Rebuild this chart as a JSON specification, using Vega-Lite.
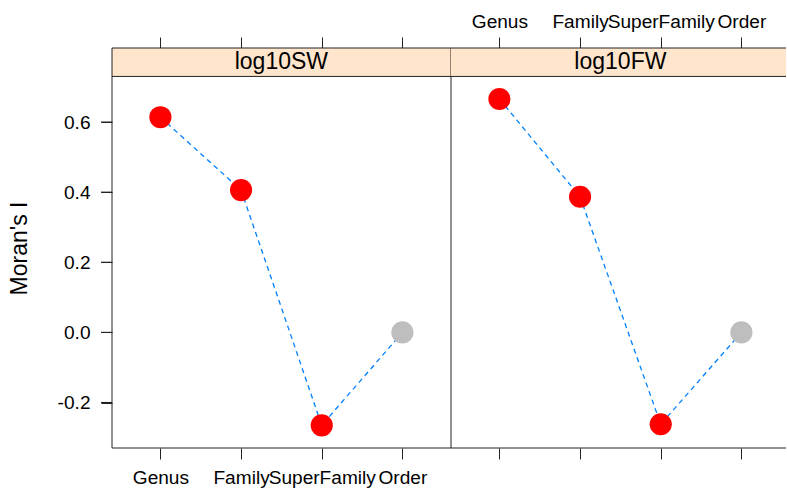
{
  "$schema": "https://vega.github.io/schema/vega-lite/v6.json",
  "autosize": {"type": "pad"},
  "padding": {"left": 8, "top": 12, "right": 0, "bottom": 1},
  "background": "white",
  "config": {
    "view": {"stroke": null},
    "font": "Liberation Sans",
    "axis": {
      "domain": true, "ticks": true,
      "domainColor": "#222", "tickColor": "#222", "labelColor": "#000", "titleColor": "#000",
      "labelFont": "Liberation Sans", "titleFont": "Liberation Sans",
      "labelFontSize": 19.1, "tickSize": 11, "grid": false, "zindex": 1,
      "domainWidth": 1, "tickWidth": 1, "titleFontWeight": "normal", "labelOverlap": false
    }
  },
  "datasets": {
    "moran": [
      {"trait": "log10SW", "level": "Genus", "moran": 0.614, "status": "significant"},
      {"trait": "log10SW", "level": "Family", "moran": 0.406, "status": "significant"},
      {"trait": "log10SW", "level": "SuperFamily", "moran": -0.265, "status": "significant"},
      {"trait": "log10SW", "level": "Order", "moran": 0.0, "status": "not significant"},
      {"trait": "log10FW", "level": "Genus", "moran": 0.666, "status": "significant"},
      {"trait": "log10FW", "level": "Family", "moran": 0.387, "status": "significant"},
      {"trait": "log10FW", "level": "SuperFamily", "moran": -0.262, "status": "significant"},
      {"trait": "log10FW", "level": "Order", "moran": 0.0, "status": "not significant"}
    ],
    "yticks": [
      {"tick": -0.2}, {"tick": 0.0}, {"tick": 0.2}, {"tick": 0.4}, {"tick": 0.6}
    ]
  },
  "spacing": 0,
  "bounds": "flush",
  "resolve": {"scale": {"x": "independent", "y": "independent"}, "axis": {"x": "independent", "y": "independent"}},
  "hconcat": [
    {
      "width": 339, "height": 400,
      "data": {"name": "moran"},
      "transform": [{"filter": "datum.trait === 'log10SW'"}],
      "resolve": {"axis": {"x": "independent"}},
      "layer": [
        {
          "data": {"values": [{"trait": "log10SW"}]},
          "mark": {"type": "rect", "fill": "#FFE5CC", "x": 0, "x2": "width"},
          "encoding": {
            "y": {"datum": 0.7303, "type": "quantitative"},
            "y2": {"datum": 0.8114}
          }
        },
        {
          "data": {"values": [{"trait": "log10SW"}]},
          "mark": {"type": "rule", "color": "#222", "strokeWidth": 1},
          "encoding": {
            "y": {"datum": 0.7303, "type": "quantitative"}
          }
        },
        {
          "data": {"values": [{"trait": "log10SW"}]},
          "mark": {"type": "text", "dx": 40.3, "fontSize": 23, "baseline": "middle", "align": "center", "color": "#000", "font": "Liberation Sans"},
          "encoding": {
            "x": {"datum": "Family", "type": "ordinal", "axis": null},
            "y": {"datum": 0.77085, "type": "quantitative"},
            "text": {"field": "trait", "type": "nominal"}
          }
        },
        {
          "mark": {"type": "line", "color": "#0080FF", "strokeDash": [5, 4], "strokeWidth": 1.3},
          "encoding": {
            "x": {"field": "level", "type": "ordinal", "scale": {"type": "point", "domain": ["Genus", "Family", "SuperFamily", "Order"], "range": [48.4, 290.4], "padding": 0},
                  "axis": {"orient": "bottom", "title": null, "labelAngle": 0, "labelPadding": 9, "labels": true, "ticks": true, "tickSize": 11, "domain": false}},
            "y": {"field": "moran", "type": "quantitative", "scale": {"domain": [-0.3297, 0.8114], "nice": false, "zero": false},
                  "axis": {"orient": "left", "values": [-0.2, 0, 0.2, 0.4, 0.6], "labelExpr": "replace(format(datum.value, '.1f'), '\u2212', '-')", "labelPadding": 11, "ticks": true, "tickSize": 11, "domain": false, "title": "Moran's I", "titleFontSize": 23, "titlePadding": 26}},
            "order": {"value": null}
          }
        },
        {
          "mark": {"type": "circle", "size": 490, "opacity": 1},
          "encoding": {
            "x": {"field": "level", "type": "ordinal",
                  "axis": {"orient": "top", "title": null, "labels": false, "ticks": true, "tickSize": 11, "domain": false}},
            "y": {"field": "moran", "type": "quantitative"},
            "color": {"field": "status", "type": "nominal", "scale": {"domain": ["significant", "not significant"], "range": ["#FF0000", "#BEBEBE"]}, "legend": null}
          }
        },
        {
          "data": {"name": "yticks"},
          "mark": {"type": "rect", "fill": "#222", "x": -11, "x2": 0, "height": 1.2},
          "encoding": {
            "y": {"field": "tick", "type": "quantitative"}
          }
        },
        {
          "data": {"values": [{}]},
          "mark": {"type": "rect", "filled": false, "fill": null, "stroke": "#222", "strokeWidth": 1, "x": 0, "x2": "width", "y": 0, "y2": "height"},
          "encoding": {}
        }
      ]
    },
    {
      "width": 335, "height": 400,
      "data": {"name": "moran"},
      "transform": [{"filter": "datum.trait === 'log10FW'"}],
      "resolve": {"axis": {"x": "independent"}},
      "layer": [
        {
          "data": {"values": [{"trait": "log10FW"}]},
          "mark": {"type": "rect", "fill": "#FFE5CC", "x": 0, "x2": "width"},
          "encoding": {
            "y": {"datum": 0.7303, "type": "quantitative", "scale": {"domain": [-0.3297, 0.8114], "nice": false, "zero": false}, "axis": null},
            "y2": {"datum": 0.8114}
          }
        },
        {
          "data": {"values": [{"trait": "log10FW"}]},
          "mark": {"type": "rule", "color": "#222", "strokeWidth": 1},
          "encoding": {
            "y": {"datum": 0.7303, "type": "quantitative", "axis": null}
          }
        },
        {
          "data": {"values": [{"trait": "log10FW"}]},
          "mark": {"type": "rule", "color": "#222", "strokeWidth": 1},
          "encoding": {
            "y": {"datum": 0.8114, "type": "quantitative", "axis": null}
          }
        },
        {
          "data": {"values": [{"trait": "log10FW"}]},
          "mark": {"type": "rule", "color": "#222", "strokeWidth": 1},
          "encoding": {
            "y": {"datum": -0.3297, "type": "quantitative", "axis": null}
          }
        },
        {
          "data": {"values": [{"trait": "log10FW"}]},
          "mark": {"type": "text", "dx": 40.3, "fontSize": 23, "baseline": "middle", "align": "center", "color": "#000", "font": "Liberation Sans"},
          "encoding": {
            "x": {"datum": "Family", "type": "ordinal", "axis": null},
            "y": {"datum": 0.77085, "type": "quantitative", "axis": null},
            "text": {"field": "trait", "type": "nominal"}
          }
        },
        {
          "mark": {"type": "line", "color": "#0080FF", "strokeDash": [5, 4], "strokeWidth": 1.3},
          "encoding": {
            "x": {"field": "level", "type": "ordinal", "scale": {"type": "point", "domain": ["Genus", "Family", "SuperFamily", "Order"], "range": [48.4, 290.4], "padding": 0},
                  "axis": {"orient": "bottom", "title": null, "labels": false, "ticks": true, "tickSize": 11, "domain": false}},
            "y": {"field": "moran", "type": "quantitative", "axis": null},
            "order": {"value": null}
          }
        },
        {
          "mark": {"type": "circle", "size": 490, "opacity": 1},
          "encoding": {
            "x": {"field": "level", "type": "ordinal",
                  "axis": {"orient": "top", "title": null, "labelAngle": 0, "labelPadding": 6, "labels": true, "ticks": true, "tickSize": 11, "domain": false}},
            "y": {"field": "moran", "type": "quantitative", "axis": null},
            "color": {"field": "status", "type": "nominal", "scale": {"domain": ["significant", "not significant"], "range": ["#FF0000", "#BEBEBE"]}, "legend": null}
          }
        },
        {
          "data": {"values": [{}]},
          "mark": {"type": "rule", "color": "#222", "strokeWidth": 1, "x": 0, "y": 0, "y2": "height"},
          "encoding": {}
        }
      ]
    }
  ]
}
